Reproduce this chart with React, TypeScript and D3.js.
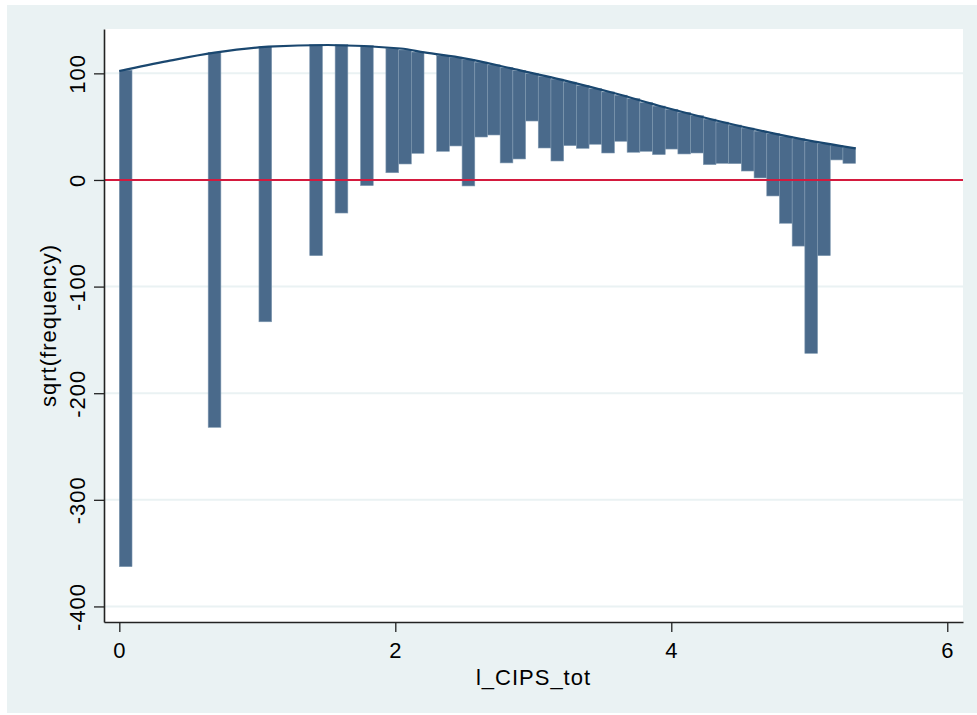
import * as d3 from "d3";
import { useEffect, useRef } from "react";

// hanging rootogram bins (lower edge, top = fitted curve, bottom = fit - sqrt(obs))
const binLo = [
  0, 0.644, 1.012, 1.38, 1.564, 1.748, 1.932, 2.024, 2.116, 2.3, 2.392, 2.484,
  2.576, 2.668, 2.76, 2.852, 2.944, 3.036, 3.128, 3.22, 3.312, 3.404, 3.496,
  3.588, 3.68, 3.772, 3.864, 3.956, 4.048, 4.14, 4.232, 4.324, 4.416, 4.508,
  4.6, 4.692, 4.784, 4.876, 4.968, 5.06, 5.152, 5.244,
];
const binTop = [
  103, 119.5, 125, 127, 127, 126, 123.5, 122, 120, 116.6, 115.2, 113, 110.5,
  108, 105.4, 102.8, 99.9, 97.2, 94.6, 91.8, 88.6, 85.6, 82.6, 79.5, 76.3, 72.6,
  69.3, 66.3, 63.4, 60.3, 57.1, 54.3, 51.5, 48.7, 45.8, 43.4, 41, 38.6, 36.2,
  34.3, 32.4, 30.6,
];
const binBottom = [
  -362.7, -232, -133, -71, -31, -5.3, 6.8, 15, 25, 26.9, 31.9, -5.6, 40.3, 42.2,
  16, 19.7, 55.3, 30, 17.8, 32.2, 29.7, 33.5, 25.3, 36.3, 26, 26.9, 23.8, 29,
  24.4, 25.3, 14.4, 15.6, 15.3, 8.4, 1.9, -15, -40.6, -62, -162.6, -71, 18.8,
  15.6,
];
const binWidth = 0.092;

const curveX = [0, 0.35, 0.69, 1.08, 1.51, 2.04, 2.21, 2.5, 2.87, 3.23, 3.59, 3.95, 4.31, 4.68, 5.04, 5.336];
const curveY = [102.2, 111.5, 119.4, 125, 126.6, 123.3, 119.6, 114.1, 103.8, 93.2, 81.3, 68.2, 56.3, 45.3, 35.9, 29.7];

const xTicks = [0, 2, 4, 6];
const yTicks = [-400, -300, -200, -100, 0, 100];
const yGrid = [-400, -300, -200, -100, 100];

const W = 977;
const H = 715;
const font = "'Liberation Sans', Arial, Helvetica, sans-serif";

const App = () => {
  const ref = useRef<SVGSVGElement>(null);

  useEffect(() => {
    const svg = d3.select(ref.current);
    svg.selectAll("*").remove();

    const plot = { left: 104, right: 963, top: 29, bottom: 622 };

    const x = d3.scaleLinear().domain([-0.111, 6.114]).range([plot.left, plot.right]);
    const y = d3.scaleLinear().domain([-414.6, 141.6]).range([plot.bottom, plot.top]);

    svg.append("rect").attr("x", 0).attr("y", 0).attr("width", W).attr("height", H).attr("fill", "#ffffff");
    svg.append("rect").attr("x", 7).attr("y", 5).attr("width", W - 7).attr("height", 708).attr("fill", "#eaf2f3");
    svg
      .append("rect")
      .attr("x", plot.left)
      .attr("y", plot.top)
      .attr("width", plot.right - plot.left)
      .attr("height", plot.bottom - plot.top)
      .attr("fill", "#ffffff");

    // grid
    svg
      .append("g")
      .selectAll("line")
      .data(yGrid)
      .join("line")
      .attr("x1", plot.left)
      .attr("x2", plot.right)
      .attr("y1", (d) => y(d))
      .attr("y2", (d) => y(d))
      .attr("stroke", "#eaf2f3")
      .attr("stroke-width", 2);

    // bars
    const bars = binLo.map((lo, i) => ({ lo, top: binTop[i], bottom: binBottom[i] }));
    svg
      .append("g")
      .selectAll("rect")
      .data(bars)
      .join("rect")
      .attr("x", (d) => x(d.lo))
      .attr("width", (d) => x(d.lo + binWidth) - x(d.lo))
      .attr("y", (d) => y(d.top))
      .attr("height", (d) => y(d.bottom) - y(d.top))
      .attr("fill", "#4a6a8b")
      .attr("stroke", "#7f98b0")
      .attr("stroke-width", 0.6);

    // zero line
    svg
      .append("line")
      .attr("x1", plot.left)
      .attr("x2", plot.right)
      .attr("y1", y(0))
      .attr("y2", y(0))
      .attr("stroke", "#d41a3e")
      .attr("stroke-width", 2);

    // fitted curve
    const line = d3
      .line<number>()
      .x((d) => x(d))
      .y((_, i) => y(curveY[i]))
      .curve(d3.curveMonotoneX);
    svg
      .append("path")
      .datum(curveX)
      .attr("fill", "none")
      .attr("stroke", "#1a476f")
      .attr("stroke-width", 2.2)
      .attr("d", line);

    const fmt = (d: any) => String(d);

    // axes
    const xAxis = svg
      .append("g")
      .attr("transform", `translate(0,${plot.bottom})`)
      .call(d3.axisBottom(x).tickValues(xTicks).tickFormat(fmt).tickSize(10).tickPadding(6).tickSizeOuter(0));
    xAxis.select(".domain").attr("stroke", "#222").attr("stroke-width", 1.6);
    xAxis.selectAll(".tick line").attr("stroke", "#222").attr("stroke-width", 1.3);
    xAxis
      .selectAll(".tick text")
      .attr("font-family", font)
      .attr("font-size", 22)
      .attr("letter-spacing", 1)
      .attr("fill", "#000")
      .attr("dy", "0.9em");

    const yAxis = svg
      .append("g")
      .attr("transform", `translate(${plot.left},0)`)
      .call(d3.axisLeft(y).tickValues(yTicks).tickFormat(fmt).tickSize(10).tickSizeOuter(0));
    yAxis.select(".domain").attr("stroke", "#222").attr("stroke-width", 1.6);
    yAxis.selectAll(".tick line").attr("stroke", "#222").attr("stroke-width", 1.3);
    yAxis
      .selectAll(".tick text")
      .attr("x", null)
      .attr("dy", null)
      .attr("transform", "translate(-19,0) rotate(-90)")
      .attr("text-anchor", "middle")
      .attr("font-family", font)
      .attr("font-size", 22)
      .attr("letter-spacing", 1)
      .attr("fill", "#000");

    // titles
    svg
      .append("text")
      .attr("x", (plot.left + plot.right) / 2)
      .attr("y", 685)
      .attr("text-anchor", "middle")
      .attr("font-family", font)
      .attr("font-size", 22)
      .attr("letter-spacing", 1)
      .text("l_CIPS_tot");

    svg
      .append("text")
      .attr("transform", `translate(56,${(plot.top + plot.bottom) / 2}) rotate(-90)`)
      .attr("text-anchor", "middle")
      .attr("font-family", font)
      .attr("font-size", 22)
      .attr("letter-spacing", 1)
      .text("sqrt(frequency)");
  }, []);

  return (
    <svg
      ref={ref}
      width={W}
      height={H}
      style={{ position: "absolute", left: 0, top: 0, display: "block" }}
    />
  );
};

export default App;
